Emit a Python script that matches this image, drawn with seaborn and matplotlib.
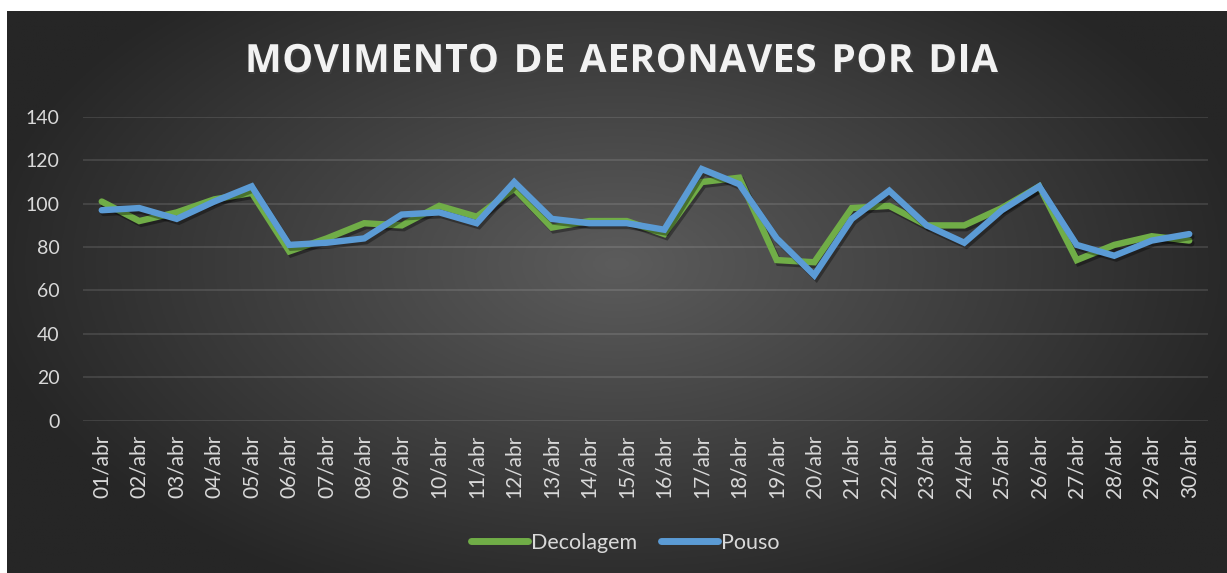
import matplotlib.pyplot as plt
import matplotlib.patheffects as pe
import numpy as np
import pandas as pd
import seaborn as sns

dias = [f"{d:02d}/abr" for d in range(1, 31)]
decolagem = [101, 92, 96, 102, 105, 78, 84, 91, 90, 99, 94, 107, 89, 92, 92,
             86, 110, 112, 74, 73, 98, 99, 90, 90, 98, 108, 74, 81, 85, 83]
pouso = [97, 98, 93, 101, 108, 81, 82, 84, 95, 96, 91, 110, 93, 91, 91,
         88, 116, 109, 84, 67, 93, 106, 90, 82, 97, 108, 81, 76, 83, 86]
series = ["Decolagem", "Pouso"]
cores = ["#70AD47", "#5B9BD5"]
yticks = [0, 20, 40, 60, 80, 100, 120, 140]

df = pd.DataFrame({
    "dia": dias * 2,
    "valor": decolagem + pouso,
    "serie": [series[0]] * 30 + [series[1]] * 30,
})

sns.set_style("dark")
plt.rcParams["font.family"] = ["Lato", "DejaVu Sans"]

W, H = 1227, 573
fig = plt.figure(figsize=(W / 100, H / 100), dpi=100, facecolor="white")

# radial gradient background (dark grey, lighter in the middle)
bg = fig.add_axes([7 / W, 0, 1 - 7 / W, 1 - 11 / H], zorder=0)
gx, gy = np.meshgrid(np.linspace(-1, 1, 400), np.linspace(-1, 1, 200))
r = np.clip(np.sqrt((gx / 1.05) ** 2 + ((gy + 0.1) / 1.3) ** 2), 0, 1)
c0, c1 = 0x5c / 255, 0x26 / 255
img = c0 + (c1 - c0) * r
bg.imshow(np.dstack([img, img, img]), aspect="auto", extent=[0, 1, 0, 1])
bg.set_axis_off()

ax = fig.add_axes([83 / W, 1 - 420.5 / H, (1208 - 83) / W, (420.5 - 117) / H],
                  zorder=1)
ax.set_facecolor("none")

sns.lineplot(data=df, x="dia", y="valor", hue="serie", palette=cores,
             linewidth=4.6, ax=ax, sort=False, legend=True)
for ln in ax.lines:
    ln.set_solid_capstyle("round")
    ln.set_solid_joinstyle("miter")
    ln.set_path_effects([pe.SimpleLineShadow(offset=(1.5, -2), shadow_color="black", alpha=0.35),
                         pe.Normal()])

ax.set_xlim(-0.5, 29.5)
ax.set_ylim(0, 140)
ax.set_yticks(yticks)
ax.grid(axis="y", color="white", alpha=0.13, linewidth=1.2)
ax.grid(axis="x", visible=False)
for s in ax.spines.values():
    s.set_visible(False)
ax.set_xlabel("")
ax.set_ylabel("")
ax.tick_params(axis="y", length=0, pad=17, labelsize=14, labelcolor="#d9d9d9")
ax.tick_params(axis="x", length=0, pad=10, labelsize=15, labelcolor="#d9d9d9",
               rotation=90)

leg = ax.legend(loc="center", bbox_to_anchor=(0.482, -0.403), ncol=2, frameon=False,
                fontsize=15.5, handlelength=2.65, handletextpad=0.12, columnspacing=1.15,
                labelcolor="#d9d9d9")
for h in leg.get_lines():
    h.set_linewidth(5)
    h.set_solid_capstyle("round")
    h.set_path_effects([])

# title with letter spacing
titulo = "MOVIMENTO DE AERONAVES POR DIA"
fig.canvas.draw()
rend = fig.canvas.get_renderer()
tprops = dict(fontsize=28, fontweight="bold", family=["Open Sans", "DejaVu Sans"],
              color="#f2f2f2", va="baseline", ha="left")
larg = []
for ch in titulo:
    if ch == " ":
        larg.append(None)
        continue
    t = fig.text(0, 0, ch, **tprops)
    larg.append(t.get_window_extent(rend).width)
    t.remove()
esp = 0.35 * 28 * 100 / 72
larg = [esp if w is None else w for w in larg]
alvo = 998 - 245
track = (alvo - sum(larg)) / (len(titulo) - 1)
x = 245
for ch, w in zip(titulo, larg):
    if ch != " ":
        fig.text(x / W, 1 - 72 / H, ch,
                 path_effects=[pe.withSimplePatchShadow(offset=(1, -1.5), alpha=0.5)],
                 **tprops)
    x += w + track

fig.savefig("out.png", dpi=100, facecolor="white")
